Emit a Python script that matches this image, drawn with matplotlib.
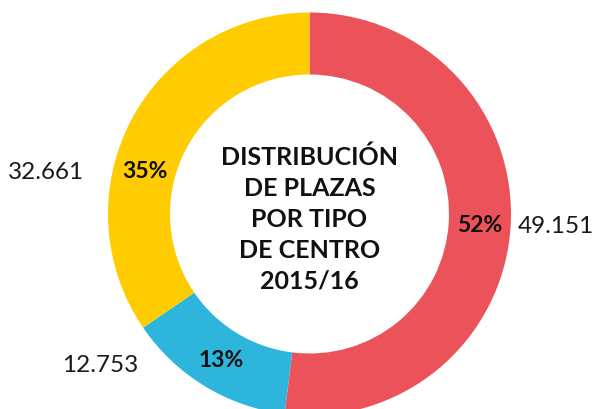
import numpy as np
import matplotlib.pyplot as plt

# plazas por tipo de centro 2015/16
plazas = [49151, 12753, 32661]
plazas_txt = ["49.151", "12.753", "32.661"]
pct_txt = ["52%", "13%", "35%"]
colores = ["#EB525A", "#2EB5DC", "#FECC00"]
titulo = "DISTRIBUCIÓN\nDE PLAZAS\nPOR TIPO\nDE CENTRO\n2015/16"

# layout: label angle shifts (deg) and radii, relative to outer radius
pct_shift = [0, 0, 13]
val_shift = [1, -23, 18.7]
val_dist = [1.225, 1.28, 1.325]

R = 201.5
cx, cy = 309.5, 195

fig = plt.figure(figsize=(5.97, 4.10), dpi=100)
ax = fig.add_axes([0, 0, 1, 1])
wedges, _ = ax.pie(plazas, colors=colores, startangle=90, counterclock=False,
                   radius=R, center=(cx, cy), frame=True,
                   wedgeprops=dict(width=62, edgecolor="none"))
ax.set_xlim(0, 597)
ax.set_ylim(0, 410)
ax.axis("off")

for i, w in enumerate(wedges):
    mid = (w.theta1 + w.theta2) / 2
    a = np.radians(mid + pct_shift[i])
    ax.text(cx + 0.845 * R * np.cos(a), cy + 0.845 * R * np.sin(a), pct_txt[i],
            ha="center", va="center", fontsize=16.5, fontweight="bold",
            family="Lato", color="#111111")
    a = np.radians(mid + val_shift[i])
    ax.text(cx + val_dist[i] * R * np.cos(a), cy + val_dist[i] * R * np.sin(a),
            plazas_txt[i], ha="center", va="center", fontsize=17.5,
            family="Lato", color="#1a1a1a")

ax.text(cx, cy - 4, titulo, ha="center", va="center", fontsize=18,
        fontweight="bold", family="Lato", color="#111111", linespacing=1.42)

fig.savefig("out.png", dpi=100)
